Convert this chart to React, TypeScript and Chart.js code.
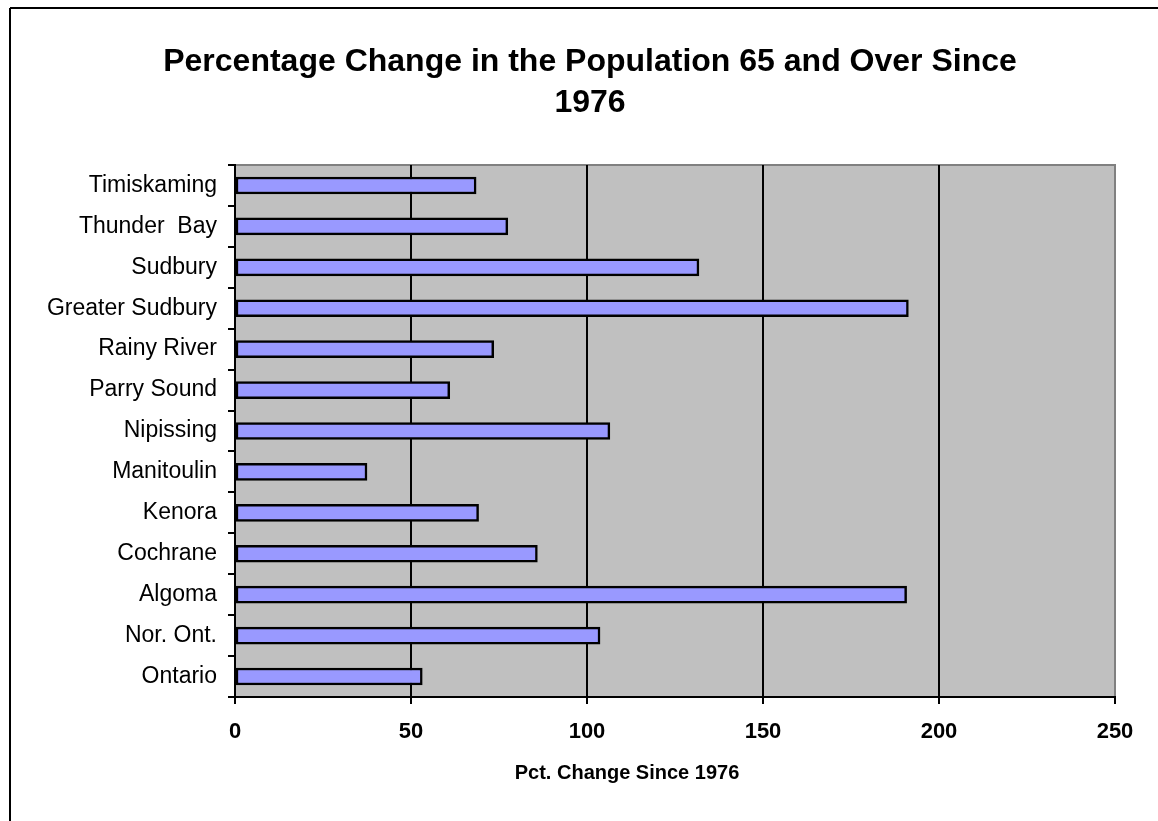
import React, { useEffect, useRef } from "react";
import { Chart, registerables } from "chart.js";

Chart.register(...registerables);

const categories = [
  "Timiskaming",
  "Thunder  Bay",
  "Sudbury",
  "Greater Sudbury",
  "Rainy River",
  "Parry Sound",
  "Nipissing",
  "Manitoulin",
  "Kenora",
  "Cochrane",
  "Algoma",
  "Nor. Ont.",
  "Ontario",
];
const pctChange = [68.5, 77.5, 131.8, 191.3, 73.5, 61.0, 106.5, 37.5, 69.2, 85.9, 190.8, 103.7, 53.2];
const titleLines = ["Percentage Change in the Population 65 and Over Since", "1976"];
const xAxisTitle = "Pct. Change Since 1976";

const FONT = "'Liberation Sans', Arial, sans-serif";

export default function App() {
  const ref = useRef<HTMLCanvasElement | null>(null);
  useEffect(() => {
    if (!ref.current) return;
    const bgPlugin = {
      id: "bgPlugin",
      beforeDraw(chart: any) {
        const { ctx, chartArea: a } = chart;
        ctx.save();
        ctx.fillStyle = "#ffffff";
        ctx.fillRect(0, 0, chart.width, chart.height);
        ctx.strokeStyle = "#000000";
        ctx.lineWidth = 2;
        ctx.beginPath();
        ctx.moveTo(10, 8);
        ctx.lineTo(chart.width + 5, 8);
        ctx.moveTo(10, 8);
        ctx.lineTo(10, chart.height + 5);
        ctx.stroke();
        ctx.fillStyle = "#C0C0C0";
        ctx.fillRect(a.left, a.top, a.right - a.left, a.bottom - a.top);
        ctx.strokeStyle = "#808080";
        ctx.lineWidth = 2;
        ctx.beginPath();
        ctx.moveTo(a.left, a.top);
        ctx.lineTo(a.right, a.top);
        ctx.lineTo(a.right, a.bottom);
        ctx.stroke();
        ctx.restore();
      },
      afterDraw(chart: any) {
        const { ctx } = chart;
        ctx.save();
        ctx.fillStyle = "#000000";
        ctx.textAlign = "center";
        ctx.textBaseline = "middle";
        ctx.font = `bold 32px ${FONT}`;
        ctx.fillText(titleLines[0], 590, 62);
        ctx.fillText(titleLines[1], 590, 103);
        ctx.font = `bold 20px ${FONT}`;
        ctx.fillText(xAxisTitle, 627, 773);
        ctx.restore();
      },
    };
    const chart = new Chart(ref.current, {
      type: "bar",
      data: {
        labels: categories,
        datasets: [
          {
            data: pctChange,
            backgroundColor: "#9999FF",
            borderColor: "#000000",
            borderWidth: 2.5,
            borderSkipped: false,
            barThickness: 17,
          },
        ],
      },
      options: {
        indexAxis: "y",
        responsive: false,
        animation: false,
        layout: { padding: { left: 0, top: 165, right: 43, bottom: 0 } },
        plugins: {
          legend: { display: false },
          title: { display: false },
          tooltip: { enabled: false },
        },
        scales: {
          x: {
            type: "linear",
            min: 0,
            max: 250,
            ticks: {
              stepSize: 50,
              color: "#000000",
              padding: 15,
              font: { family: FONT, size: 22, weight: "bold" },
            },
            grid: {
              color: (c: any) => (c.tick && c.tick.value === 250 ? "#808080" : "#000000"),
              tickColor: "#000000",
              lineWidth: 2,
              tickLength: 7,
            },
            border: { display: true, color: "#000000", width: 2 },
            afterFit: (s: any) => {
              s.height = 124;
            },
          },
          y: {
            type: "category",
            ticks: {
              color: "#000000",
              padding: 11,
              font: { family: FONT, size: 23 },
            },
            grid: {
              drawOnChartArea: false,
              color: "#000000",
              lineWidth: 2,
              tickLength: 7,
              offset: true,
            },
            border: { display: true, color: "#000000", width: 2 },
            afterFit: (s: any) => {
              s.width = 235;
            },
          },
        },
      },
      plugins: [bgPlugin],
    });
    return () => chart.destroy();
  }, []);
  return (
    <div style={{ position: "absolute", left: 0, top: 0, width: 1158, height: 821, background: "#fff" }}>
      <canvas ref={ref} width={1158} height={821} style={{ display: "block" }} />
    </div>
  );
}
